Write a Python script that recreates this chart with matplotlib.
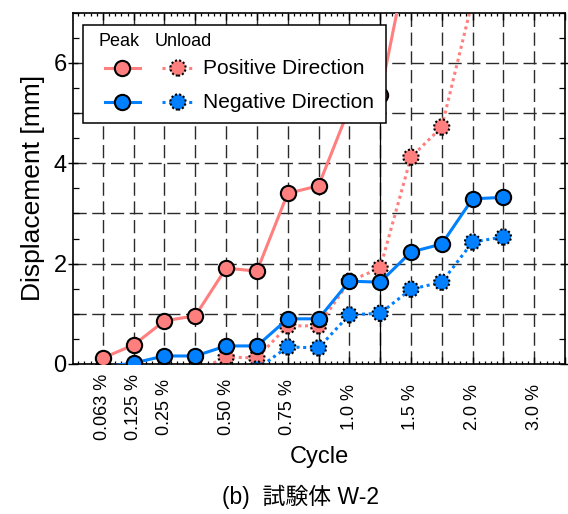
import numpy as np
import matplotlib
matplotlib.use("Agg")
import matplotlib.pyplot as plt
from matplotlib.ticker import MultipleLocator, AutoMinorLocator, FixedLocator
from matplotlib.patches import Rectangle

plt.rcParams['font.family'] = ['Liberation Sans', 'Noto Sans CJK JP', 'DejaVu Sans']
plt.rcParams['lines.scale_dashes'] = False

# Loading protocol: drift levels and number of cycles per level
levels = ['0.063 %', '0.125 %', '0.25 %', '0.50 %', '0.75 %', '1.0 %', '1.5 %', '2.0 %', '3.0 %']
cycles_per_level = [1, 1, 2, 2, 2, 2, 2, 2, 2]

nan = np.nan
# Displacement [mm] per cycle (peak and residual after unloading)
pos_peak = [0.12, 0.38, 0.86, 0.96, 1.91, 1.85, 3.40, 3.55, 5.10, 5.35, 8.40, nan, nan, nan]
pos_unload = [nan, nan, nan, -0.15, 0.14, 0.12, 0.76, 0.76, 1.65, 1.91, 4.12, 4.72, 7.25, nan]
neg_peak = [-0.06, 0.02, 0.16, 0.16, 0.36, 0.36, 0.90, 0.90, 1.65, 1.63, 2.23, 2.39, 3.29, 3.32]
neg_unload = [nan, nan, nan, nan, nan, -0.10, 0.34, 0.32, 0.98, 1.01, 1.49, 1.63, 2.43, 2.53]

PINK = '#FF7F7F'
BLUE = '#0080FF'

W, H = 568, 514
fig = plt.figure(figsize=(W / 100, H / 100), dpi=100)
ax_l, ax_r, ax_t, ax_b = 73, 565, 12.6, 364
ax = fig.add_axes([ax_l / W, 1 - ax_b / H, (ax_r - ax_l) / W, (ax_b - ax_t) / H])

level_pos = np.concatenate([[0], np.cumsum(cycles_per_level)[:-1]])
x = np.arange(len(neg_peak))

ax.set_xlim(-0.97, 15.0)
ax.set_ylim(0, 7)

# grid
grid_kw = dict(color='#2a2a2a', lw=1.0, linestyle=(0, (9.5, 4)), zorder=0.5)
for gx in range(0, 15):
    ax.axvline(gx, **grid_kw)
for gy in range(1, 7):
    ax.axhline(gy, **grid_kw)
ax.axvline(9, color='black', lw=0.9, zorder=0.6)

lw = 2.2
ms = 11
dot_line = (0, (2.2, 2.6))
dot_edge = (0, (1.5, 1.5))


def unload(y, color, z):
    ax.plot(x, y, color=color, lw=lw, linestyle=dot_line, zorder=z)
    ax.scatter(x, y, s=ms ** 2, c=color, edgecolors='black', linewidths=1.5,
               linestyle=dot_edge, zorder=z + 0.1)


def peak(y, color, z):
    ax.plot(x, y, color=color, lw=lw, marker='o', ms=ms, mec='black', mew=1.5,
            zorder=z)


unload(pos_unload, PINK, 2)
unload(neg_unload, BLUE, 2.2)
peak(neg_peak, BLUE, 3)
peak(pos_peak, PINK, 3.2)

# axes styling
for s in ax.spines.values():
    s.set_linewidth(1.2)
ax.xaxis.set_major_locator(MultipleLocator(1))
ax.xaxis.set_minor_locator(AutoMinorLocator(5))
ax.yaxis.set_major_locator(FixedLocator([0, 2, 4, 6]))
ax.yaxis.set_minor_locator(MultipleLocator(0.5))
ax.tick_params(axis='x', which='major', direction='in', length=5, width=1.0,
               top=True, bottom=True, labelbottom=False)
ax.tick_params(axis='x', which='minor', direction='in', length=2.5, width=0.9,
               top=True, bottom=True)
ax.tick_params(axis='y', which='major', direction='inout', length=7, width=1.0,
               left=True, right=True, labelsize=17, pad=1)
ax.tick_params(axis='y', which='minor', direction='in', length=4, width=0.9,
               left=True, right=True)
ax.set_yticklabels(['0', '2', '4', '6'])

# drift-level labels below the axis, centred 43 px under it
label_y = -(407 - ax_b) / (ax_b - ax_t)
for p, lab in zip(level_pos, levels):
    ax.text(p, label_y, lab, rotation=90, ha='center', va='center', fontsize=13,
            transform=ax.get_xaxis_transform(), clip_on=False)

ax.set_ylabel('Displacement [mm]', fontsize=19, labelpad=6)
fig.text(319 / W, 1 - 457 / H, 'Cycle', ha='center', va='center', fontsize=17)
fig.text(301 / W, 1 - 497 / H, '(b)  試験体 W-2', ha='center', va='center', fontsize=16.5)


# legend box
def P(px, py):
    return ((px - ax_l) / (ax_r - ax_l), (ax_b - py) / (ax_b - ax_t))


tr = ax.transAxes
bx0, by0 = P(83, 123)
bx1, by1 = P(386, 25)
ax.add_patch(Rectangle((bx0, by0), bx1 - bx0, by1 - by0, transform=tr,
                       facecolor='white', edgecolor='black', lw=1.1,
                       zorder=10, clip_on=False))
ax.text(*P(98, 41), 'Peak', transform=tr, fontsize=13, va='center', ha='left', zorder=11)
ax.text(*P(155, 41), 'Unload', transform=tr, fontsize=13, va='center', ha='left', zorder=11)

for row_y, color, label in [(68, PINK, 'Positive Direction'), (102, BLUE, 'Negative Direction')]:
    (ax0, ay), (ax1, _) = P(105, row_y), P(140, row_y)
    ax.plot([ax0, ax1], [ay, ay], color=color, lw=lw, transform=tr, zorder=11, clip_on=False)
    mx, _ = P(122, row_y)
    ax.plot([mx], [ay], marker='o', ms=ms, color=color, mec='black', mew=1.5,
            transform=tr, zorder=12, clip_on=False)
    (dx0, _), (dx1, _) = P(162, row_y), P(194, row_y)
    ax.plot([dx0, dx1], [ay, ay], color=color, lw=lw, linestyle=dot_line,
            transform=tr, zorder=11, clip_on=False)
    ux, _ = P(178, row_y)
    ax.scatter([ux], [ay], s=ms ** 2, c=color, edgecolors='black', linewidths=1.5,
               linestyle=dot_edge, transform=tr, zorder=12, clip_on=False)
    tx, _ = P(203, row_y)
    ax.text(tx, ay, label, transform=tr, fontsize=15, va='center', ha='left', zorder=12)

fig.savefig('out.png', dpi=100)
